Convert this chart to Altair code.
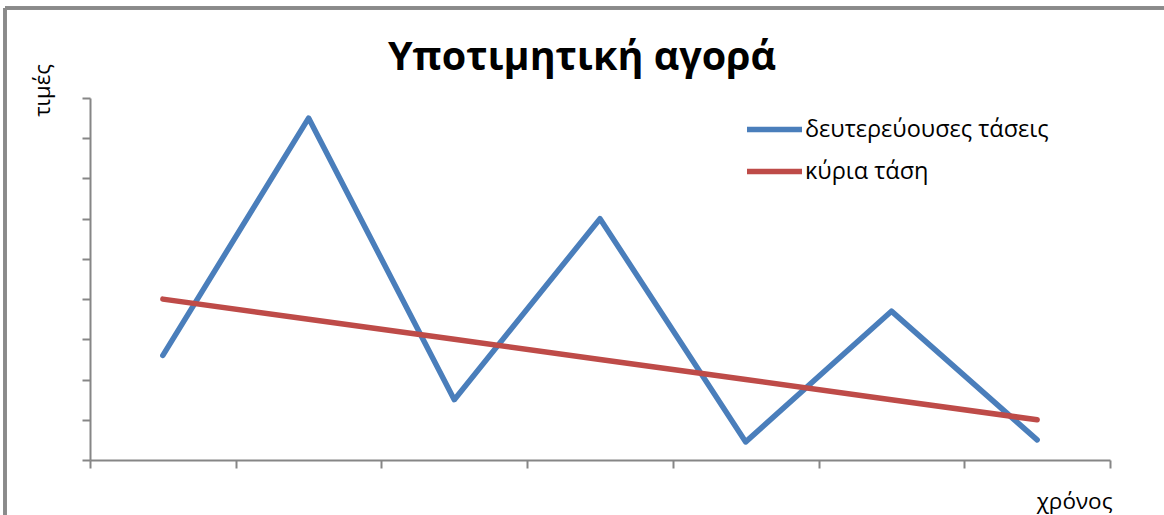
import altair as alt
import pandas as pd

# Bear market: secondary swings around a falling primary trend
periods = [1, 2, 3, 4, 5, 6, 7]
secondary_trend = [2.6, 8.5, 1.5, 6.0, 0.45, 3.7, 0.5]
primary_trend = [4.0, 3.5, 3.0, 2.5, 2.0, 1.5, 1.0]

series_names = ["δευτερεύουσες τάσεις", "κύρια τάση"]
series_colors = ["#4A7EBB", "#BE4B48"]

title_text = "Υποτιμητική αγορά"
y_title = "τιμές"
x_title = "χρόνος"

FONT = "Open Sans"
AXIS_GREY = "#868686"

rows = []
for p, s in zip(periods, secondary_trend):
    rows.append({"period": p - 0.5, "value": s, "series": series_names[0], "order": 0})
for p, v in zip(periods, primary_trend):
    rows.append({"period": p - 0.5, "value": v, "series": series_names[1], "order": 1})
df = pd.DataFrame(rows)

W, H = 1020, 362

color_scale = alt.Scale(domain=series_names, range=series_colors)

lines = alt.Chart(df).mark_line(
    strokeWidth=5.5, strokeCap="round", strokeJoin="round"
).encode(
    x=alt.X(
        "period:Q",
        scale=alt.Scale(domain=[0, 7], nice=False, zero=False),
        axis=alt.Axis(
            values=list(range(0, 8)), labels=False, grid=False,
            tickSize=8, tickWidth=2, domainWidth=2,
            tickColor=AXIS_GREY, domainColor=AXIS_GREY,
            title=x_title, titleFont=FONT, titleFontSize=22.5,
            titleFontWeight="normal", titleColor="#000000",
            titleAnchor="end", titleAlign="right",
            titleX=W + 2, titleY=48, titleBaseline="alphabetic",
        ),
    ),
    y=alt.Y(
        "value:Q",
        scale=alt.Scale(domain=[0, 9], nice=False),
        axis=alt.Axis(
            values=list(range(0, 10)), labels=False, grid=False,
            tickSize=8, tickWidth=2, domainWidth=2,
            tickColor=AXIS_GREY, domainColor=AXIS_GREY,
            title=y_title, titleFont=FONT, titleFontSize=22,
            titleFontWeight="normal", titleColor="#000000",
            titleAngle=270, titleAlign="center", titleBaseline="alphabetic",
            titleX=-41, titleY=-8,
        ),
    ),
    color=alt.Color(
        "series:N",
        scale=color_scale,
        legend=alt.Legend(
            title=None, orient="none", legendX=654, legendY=1,
            direction="vertical",
            symbolType="stroke", symbolSize=3025, symbolStrokeWidth=5.5,
            labelFont=FONT, labelFontSize=23.5, labelColor="#000000",
            labelOffset=0, labelLimit=500, rowPadding=-10,
        ),
    ),
    order=alt.Order("order:Q"),
    detail="series:N",
)

# Outer chart frame; only its top and left edges fall inside the canvas
frame_top = alt.Chart(df).mark_rule(color="#8a8a8a", strokeWidth=2.5).encode(
    x=alt.value(-85), x2=alt.value(W + 60), y=alt.value(-90), y2=alt.value(-90)
)
frame_left = alt.Chart(df).mark_rule(color="#8a8a8a", strokeWidth=2.5).encode(
    x=alt.value(-85), x2=alt.value(-85), y=alt.value(-90), y2=alt.value(H + 60)
)

chart = alt.layer(frame_top, frame_left, lines).properties(
    width=W, height=H,
    title=alt.TitleParams(
        title_text, font=FONT, fontSize=39.5, fontWeight="bold", color="#000000",
        anchor="middle", frame="group", dx=-18, dy=129, offset=26,
        baseline="alphabetic",
    ),
    autosize=alt.AutoSizeParams(type="none"),
    padding={"left": 90, "top": 98, "right": 54, "bottom": 55},
).configure(background="#ffffff").configure_view(stroke=None)

chart.save("out.html", embed_options={"renderer": "svg", "actions": False})
